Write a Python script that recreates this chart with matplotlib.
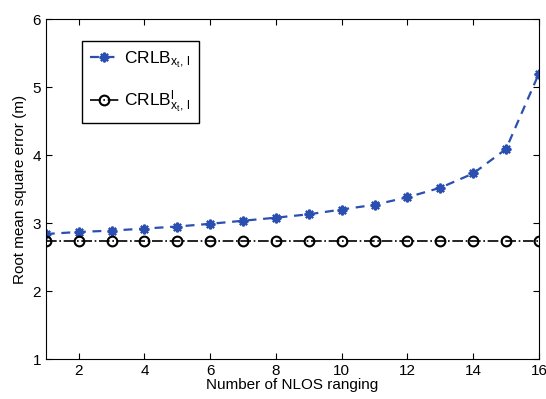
import matplotlib.pyplot as plt

plt.rcParams['font.family'] = ['Liberation Sans', 'DejaVu Sans']
plt.rcParams['mathtext.fontset'] = 'custom'
plt.rcParams['mathtext.rm'] = 'Liberation Sans'
plt.rcParams['mathtext.it'] = 'Liberation Sans'
plt.rcParams['mathtext.sf'] = 'Liberation Sans'

# number of NLOS ranging
n_nlos = list(range(1, 17))

# RMSE (m)
crlb = [2.84, 2.87, 2.89, 2.92, 2.95, 2.99, 3.035, 3.08, 3.13, 3.20,
        3.27, 3.38, 3.52, 3.73, 4.09, 5.20]
crlb_l = [2.74] * 16

fig = plt.figure(figsize=(5.46, 3.99), dpi=100)
ax = fig.add_axes([0.084, 0.100, 0.903, 0.852])

ax.plot(n_nlos, crlb, '--', color='#2B4FB0', lw=1.6, marker=(8, 2, 0),
        ms=7, mew=1.6, dashes=(4, 3), label=r'$\mathrm{CRLB}_{\mathrm{x_t,\,l}}$')
ax.plot(n_nlos, crlb_l, '-.', color='black', lw=1.2, marker='o', ms=7,
        mfc='none', mew=1.5, label=r'$\mathrm{CRLB}^{\mathrm{l}}_{\mathrm{x_t,\,l}}$')

ax.set_xlim(1, 16)
ax.set_ylim(1, 6)
ax.set_xticks(range(2, 17, 2))
ax.set_yticks(range(1, 7))
ax.tick_params(direction='in', top=True, right=True, labelsize=11, length=4)
ax.set_xlabel('Number of NLOS ranging', fontsize=11, labelpad=0)
ax.set_ylabel('Root mean square error (m)', fontsize=11, labelpad=4)

leg = ax.legend(loc='upper left', bbox_to_anchor=(0.073, 0.935), fontsize=12.5,
                fancybox=False, edgecolor='black', framealpha=1, borderaxespad=0,
                handlelength=1.7, handletextpad=0.3, labelspacing=1.1, borderpad=0.45)
leg.get_frame().set_linewidth(1.0)

fig.savefig('out.png', dpi=100)
